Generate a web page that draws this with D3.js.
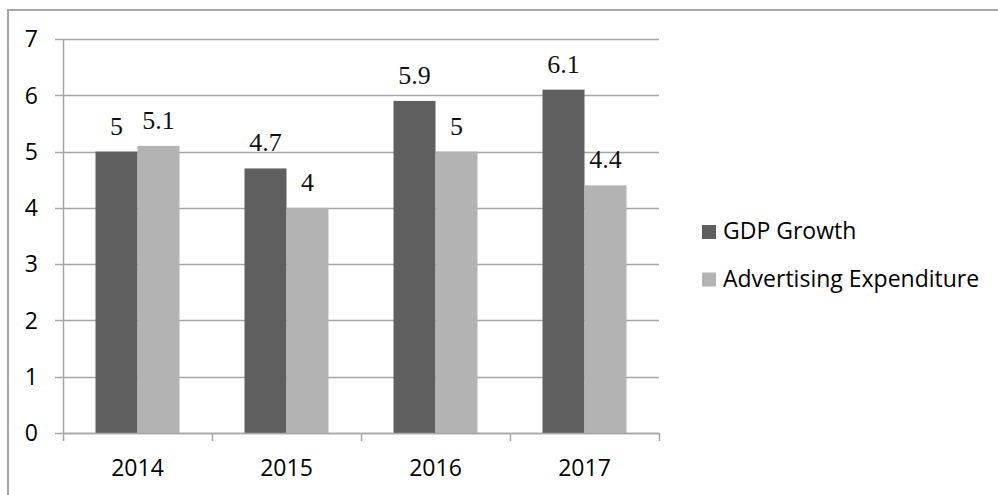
<!DOCTYPE html>
<html>
<head>
<meta charset="utf-8">
<script src="https://cdn.jsdelivr.net/npm/d3@7"></script>
<style>
  html, body { margin: 0; padding: 0; background: #fff; }
  svg { display: block; }
</style>
</head>
<body>
<svg id="chart" width="998" height="495"></svg>
<script>
// Chart data
const categories = ["2014", "2015", "2016", "2017"];
const seriesNames = ["GDP Growth", "Advertising Expenditure"];
const gdpGrowth = [5, 4.7, 5.9, 6.1];
const adExpenditure = [5.1, 4, 5, 4.4];
const yTicks = [0, 1, 2, 3, 4, 5, 6, 7];

const colors = { "GDP Growth": "#5f5f5f", "Advertising Expenditure": "#b3b3b3" };
const seriesValues = { "GDP Growth": gdpGrowth, "Advertising Expenditure": adExpenditure };

const svg = d3.select("#chart");
const sansFont = "'Open Sans', 'Noto Sans', sans-serif";
const serifFont = "'Liberation Serif', 'DejaVu Serif', serif";
const sansSize = 23;

// Outer frame (only top and left edges fall inside the view)
svg.append("rect")
  .attr("x", 8).attr("y", 10)
  .attr("width", 1100).attr("height", 600)
  .attr("fill", "none")
  .attr("stroke", "#a6a6a6")
  .attr("stroke-width", 2);

const plot = { left: 63, right: 659, top: 39, bottom: 433 };

const x0 = d3.scaleBand().domain(categories).range([plot.left, plot.right]).padding(0);
const x1 = d3.scaleBand().domain(seriesNames).range([0, x0.bandwidth()])
  .paddingInner(0).paddingOuter(0.774);
const y = d3.scaleLinear().domain([0, 7]).range([plot.bottom, plot.top]);

const gridColor = "#a6a6a6";

// Horizontal gridlines with short ticks left of the axis
const grid = svg.append("g");
grid.selectAll("line")
  .data(yTicks)
  .join("line")
  .attr("x1", plot.left - 8).attr("x2", plot.right)
  .attr("y1", d => Math.round(y(d)) + 0.5).attr("y2", d => Math.round(y(d)) + 0.5)
  .attr("stroke", gridColor).attr("stroke-width", 1.5);

// Y axis line
svg.append("line")
  .attr("x1", plot.left + 0.5).attr("x2", plot.left + 0.5)
  .attr("y1", plot.top).attr("y2", plot.bottom)
  .attr("stroke", gridColor).attr("stroke-width", 1.5);

// Y tick labels
svg.append("g").selectAll("text")
  .data(yTicks)
  .join("text")
  .attr("x", 38)
  .attr("y", d => y(d))
  .attr("dy", "0.36em")
  .attr("text-anchor", "end")
  .attr("font-family", sansFont)
  .attr("font-size", sansSize)
  .attr("fill", "#000")
  .text(d => d);

// Bars
const groups = svg.append("g").selectAll("g")
  .data(categories)
  .join("g")
  .attr("transform", d => `translate(${x0(d)},0)`);

groups.selectAll("rect")
  .data((c, i) => seriesNames.map(s => ({ s, v: seriesValues[s][i] })))
  .join("rect")
  .attr("x", d => x1(d.s))
  .attr("width", x1.bandwidth())
  .attr("y", d => y(d.v))
  .attr("height", d => plot.bottom - y(d.v))
  .attr("fill", d => colors[d.s]);

// Value labels above bars
groups.selectAll("text")
  .data((c, i) => seriesNames.map(s => ({ s, v: seriesValues[s][i] })))
  .join("text")
  .attr("x", d => x1(d.s) + x1.bandwidth() / 2)
  .attr("y", d => y(d.v) - 17)
  .attr("text-anchor", "middle")
  .attr("font-family", serifFont)
  .attr("font-size", 26)
  .attr("fill", "#111")
  .text(d => d.v);

// X axis line and category ticks
svg.append("line")
  .attr("x1", plot.left).attr("x2", plot.right)
  .attr("y1", plot.bottom + 0.5).attr("y2", plot.bottom + 0.5)
  .attr("stroke", gridColor).attr("stroke-width", 1.5);

const xTickPos = categories.map(c => x0(c)).concat([plot.right]);
svg.append("g").selectAll("line")
  .data(xTickPos)
  .join("line")
  .attr("x1", d => d + 0.5).attr("x2", d => d + 0.5)
  .attr("y1", plot.bottom).attr("y2", plot.bottom + 8)
  .attr("stroke", gridColor).attr("stroke-width", 1.5);

svg.append("g").selectAll("text")
  .data(categories)
  .join("text")
  .attr("x", d => x0(d) + x0.bandwidth() / 2)
  .attr("y", 476)
  .attr("text-anchor", "middle")
  .attr("font-family", sansFont)
  .attr("font-size", sansSize)
  .attr("fill", "#000")
  .text(d => d);

// Legend
const legend = svg.append("g").selectAll("g")
  .data(seriesNames)
  .join("g")
  .attr("transform", (d, i) => `translate(702,${225 + i * 47.5})`);

legend.append("rect")
  .attr("width", 14).attr("height", 14)
  .attr("fill", d => colors[d]);

legend.append("text")
  .attr("x", 21)
  .attr("y", 14)
  .attr("font-family", sansFont)
  .attr("font-size", sansSize)
  .attr("fill", "#000")
  .text(d => d);
</script>
</body>
</html>
